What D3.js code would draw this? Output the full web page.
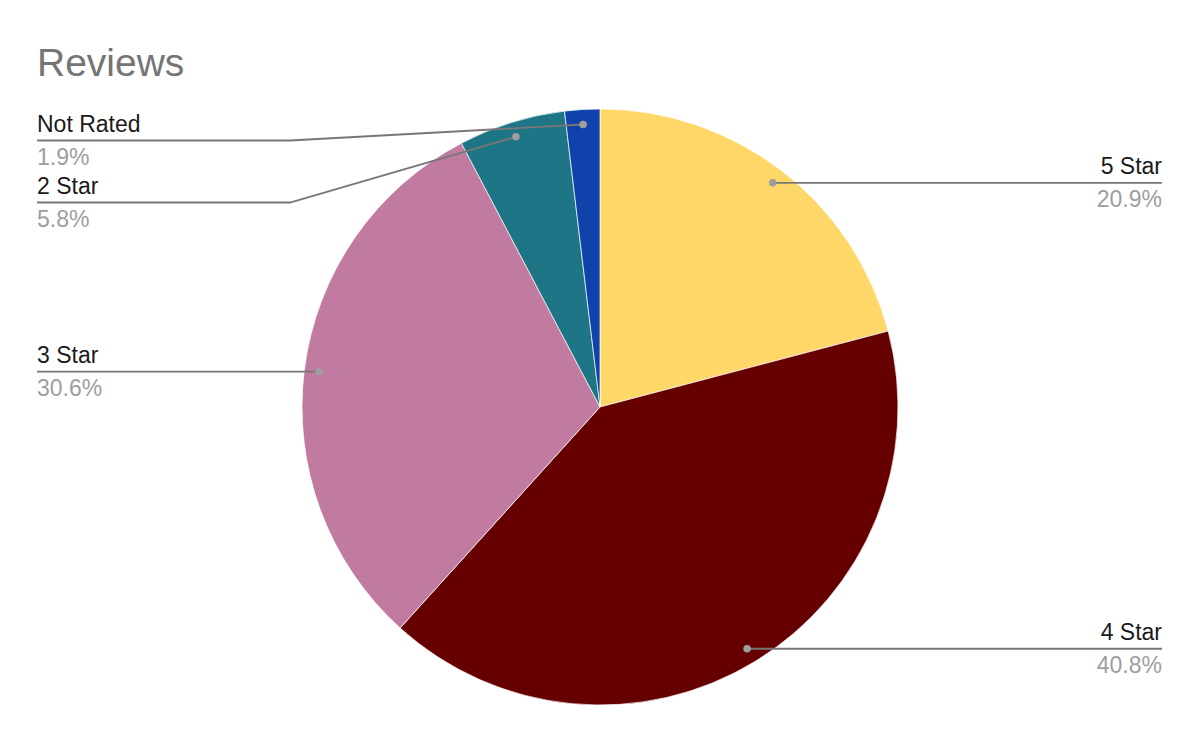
<!DOCTYPE html>
<html>
<head>
<meta charset="utf-8">
<script src="https://cdn.jsdelivr.net/npm/d3@7"></script>
<style>
  html, body { margin: 0; padding: 0; background: #fff; }
  svg { display: block; font-family: "Liberation Sans", Arial, sans-serif; }
</style>
</head>
<body>
<svg id="chart" width="1200" height="742"></svg>
<script>
const title = "Reviews";
const categories = ["5 Star", "4 Star", "3 Star", "2 Star", "Not Rated"];
const values = [20.9, 40.8, 30.6, 5.8, 1.9];
const colors = ["#fdd868", "#660000", "#c27ba0", "#1d7585", "#0f43ab"];

const W = 1200, H = 742;
const cx = 600, cy = 407, R = 298;
const dotR = 283;
const leftX = 37, rightX = 1162, elbowX = 290;

const svg = d3.select("#chart");

svg.append("text")
  .attr("x", 37).attr("y", 76)
  .attr("font-size", 39)
  .attr("fill", "#757575")
  .text(title);

const data = categories.map((c, i) => ({ cat: c, value: values[i], color: colors[i] }));
const pie = d3.pie().value(d => d.value).sort(null);
const arcs = pie(data);
const arc = d3.arc().innerRadius(0).outerRadius(R);
const dotArc = d3.arc().innerRadius(dotR).outerRadius(dotR);

const g = svg.append("g").attr("transform", `translate(${cx},${cy})`);
g.selectAll("path").data(arcs).join("path")
  .attr("d", arc)
  .attr("fill", d => d.data.color)
  .attr("stroke", "#fff")
  .attr("stroke-width", 0.7);

// label layout
const fmt = d => d.toFixed(1) + "%";
const items = arcs.map(a => {
  const [x, y] = dotArc.centroid(a);
  const mid = (a.startAngle + a.endAngle) / 2;
  return { a, x: cx + x, y: cy + y, side: Math.sin(mid) >= 0 ? "right" : "left" };
});
const left = items.filter(d => d.side === "left").sort((p, q) => p.y - q.y);
let prev = -Infinity;
left.forEach(d => {
  d.ly = Math.max(d.y, prev + 62, 140.5);
  prev = d.ly;
});
items.filter(d => d.side === "right").forEach(d => { d.ly = d.y; });

const lg = svg.append("g");
items.forEach(d => {
  const endX = d.side === "right" ? rightX : leftX;
  let pts;
  if (Math.abs(d.ly - d.y) < 0.5) {
    pts = [[d.x, d.y], [endX, d.ly]];
  } else {
    pts = [[d.x, d.y], [elbowX, d.ly], [endX, d.ly]];
  }
  lg.append("path")
    .attr("d", d3.line()(pts))
    .attr("fill", "none")
    .attr("stroke", "#777")
    .attr("stroke-width", 1.8);
  lg.append("circle")
    .attr("cx", d.x).attr("cy", d.y).attr("r", 3.8)
    .attr("fill", "#9e9e9e");
  const anchor = d.side === "right" ? "end" : "start";
  lg.append("text")
    .attr("x", endX).attr("y", d.ly - 9)
    .attr("text-anchor", anchor)
    .attr("font-size", 23)
    .attr("fill", "#1a1a1a")
    .text(d.a.data.cat);
  lg.append("text")
    .attr("x", endX).attr("y", d.ly + 24)
    .attr("text-anchor", anchor)
    .attr("font-size", 23)
    .attr("fill", "#9e9e9e")
    .text(fmt(d.a.data.value));
});
</script>
</body>
</html>
